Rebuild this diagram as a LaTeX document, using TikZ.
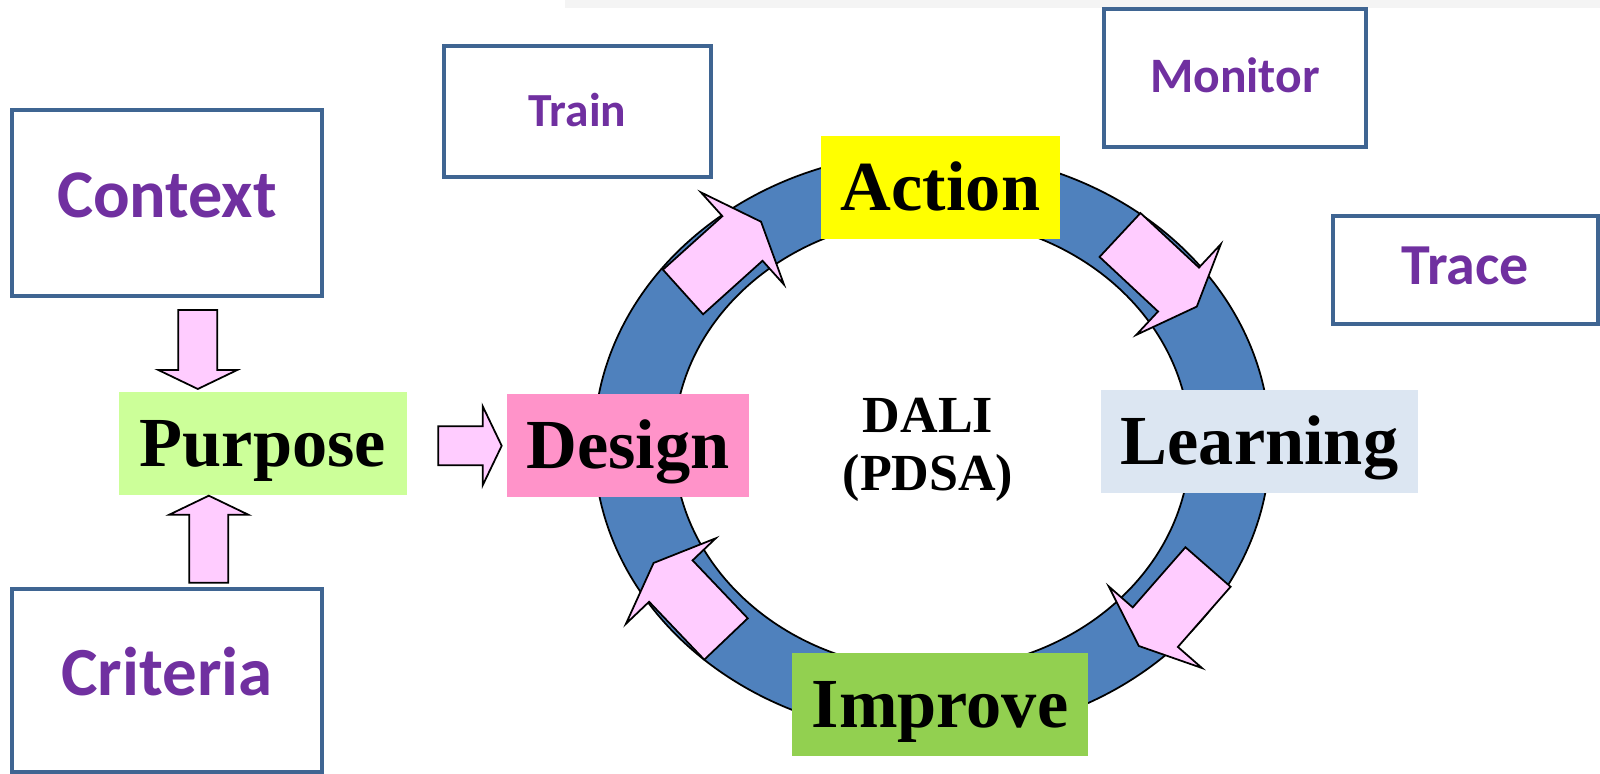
\documentclass[tikz,border=0pt]{standalone}
\usepackage{fontspec}
\setmainfont{Liberation Serif}
\newfontfamily\calibri{Carlito}
\definecolor{ringblue}{HTML}{4F81BD}
\definecolor{arrowpink}{HTML}{FFCCFF}
\definecolor{txtpurple}{HTML}{7030A0}
\definecolor{boxblue}{HTML}{3F6592}
\definecolor{purposegreen}{HTML}{CCFF99}
\definecolor{designpink}{HTML}{FF93C9}
\definecolor{actionyellow}{HTML}{FFFF00}
\definecolor{learnblue}{HTML}{DCE6F2}
\definecolor{improvegreen}{HTML}{92D050}
\definecolor{topgray}{HTML}{F4F4F4}
\tikzset{
  ringarrow/.pic={\draw[arrowfill] (0,-30) -- (80,-30) -- (80,-62) -- (105,0) -- (80,62) -- (80,30) -- (0,30) -- cycle;},
  pics/feedarrow/.style={code={\draw[arrowfill] (0,-19.5) -- ({#1-19},-19.5) -- ({#1-19},-39.5) -- (#1,0) -- ({#1-19},39.5) -- ({#1-19},19.5) -- (0,19.5) -- cycle;}}
}
\begin{document}
\begin{tikzpicture}
  [x=0.01cm,y=0.01cm,
   arrowfill/.style={fill=arrowpink,draw=black,line width=0.5pt,line join=miter},
   outbox/.style={draw=boxblue,line width=1.1pt,inner sep=0,text=txtpurple,text height=0.3cm,text depth=0pt},
   stage/.style={inner sep=0,minimum height=1.03cm,text height=13.2pt,text depth=0pt,font=\fontsize{20}{24}\selectfont\bfseries}]
  \useasboundingbox (0,0) rectangle (1600,-774);
  \fill[topgray] (565,0) rectangle (1600,-8);

  % ring
  \path[fill=ringblue,draw=black,line width=0.5pt,even odd rule]
    (932,-444) ellipse [x radius=338,y radius=292]
    (932,-444) ellipse [x radius=258,y radius=226];

  \pic[rotate=42] (arr1) at (683,-292) {ringarrow};
  \pic[rotate=-43] (arr2) at (1120,-235) {ringarrow};
  \pic[rotate=228.8] (arr3) at (1208,-567) {ringarrow};
  \pic[rotate=133.6] (arr4) at (726,-639) {ringarrow};

  \node[stage,fill=actionyellow,minimum width=2.39cm] (action) at (940.5,-187.5) {Action};
  \node[stage,fill=learnblue,minimum width=3.17cm] (learning) at (1259.5,-441.5) {Learning};
  \node[stage,fill=improvegreen,minimum width=2.96cm] (improve) at (940,-704.5) {Improve};
  \node[stage,fill=designpink,minimum width=2.42cm] (design) at (628,-445.5) {Design};
  \node[stage,fill=purposegreen,minimum width=2.88cm] (purpose) at (263,-443.5) {Purpose};

  \node[align=center,font=\fontsize{14.8}{16.3}\selectfont\bfseries] (dali) at (928,-450) {DALI\\(PDSA)};

  \pic[rotate=-90] (feed1) at (197.8,-310) {feedarrow=79};
  \pic[rotate=90] (feed2) at (208.8,-582.7) {feedarrow=87};
  \pic (feed3) at (438.3,-445.8) {feedarrow=63.4};

  \node[outbox,minimum width=3.10cm,minimum height=1.86cm,font=\calibri\fontsize{19.4}{22}\selectfont\bfseries] (context) at (167,-203) {Context};
  \node[outbox,minimum width=3.10cm,minimum height=1.83cm,font=\calibri\fontsize{19.6}{22}\selectfont\bfseries] (criteria) at (167,-680.5) {Criteria};
  \node[outbox,minimum width=2.67cm,minimum height=1.31cm,font=\calibri\fontsize{13.5}{16}\selectfont\bfseries] (train) at (577.5,-111.5) {Train};
  \node[outbox,minimum width=2.62cm,minimum height=1.38cm,font=\calibri\fontsize{14.1}{16}\selectfont\bfseries] (monitor) at (1235,-78) {Monitor};
  \node[outbox,minimum width=2.65cm,minimum height=1.08cm,font=\calibri\fontsize{16.5}{19}\selectfont\bfseries] (trace) at (1465.5,-270) {Trace};
\end{tikzpicture}
\end{document}
